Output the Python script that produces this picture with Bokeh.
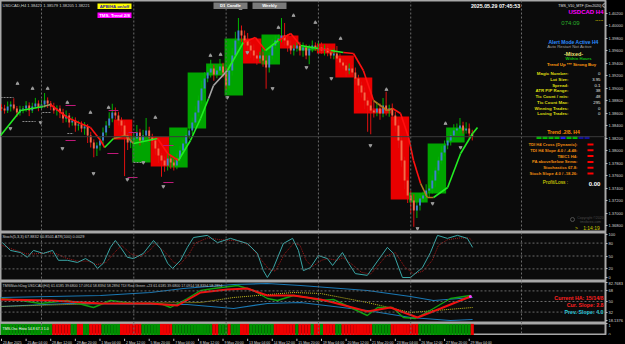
import numpy as np
from bokeh.plotting import figure
from bokeh.layouts import column
from bokeh.models import Range1d, FixedTicker, Span, Label, NumeralTickFormatter
from bokeh.core.properties import value
from bokeh.embed import file_html
from bokeh.resources import INLINE

FONT = "Liberation Sans"
BG = "#0b0b0b"
GRIDC = "#6a6a6a"
SEP = "#a8a8a8"

# ---------------- data ----------------
first_open = 1.38690
closes = [1.38672,
    1.38640, 1.38704, 1.38736, 1.38672, 1.38608, 1.38656,
    1.38672, 1.38720, 1.38640, 1.38704, 1.38752, 1.38688,
    1.38736, 1.38800, 1.38752, 1.38704, 1.38640, 1.38672,
    1.38608, 1.38512, 1.38560, 1.38448, 1.38480, 1.38400,
    1.38416, 1.38352, 1.38384, 1.38240, 1.38128, 1.38032,
    1.38080, 1.38160, 1.38288, 1.38400, 1.38512, 1.38608,
    1.38560, 1.38480, 1.38400, 1.38240, 1.38128, 1.38176,
    1.38192, 1.38288, 1.38160, 1.38240, 1.38320, 1.38208,
    1.38160, 1.38032, 1.37920, 1.37840, 1.37760, 1.37872,
    1.37808, 1.37760, 1.37872, 1.38000, 1.38112, 1.38240,
    1.38320, 1.38448, 1.38608, 1.38800, 1.38992, 1.39152,
    1.39248, 1.39312, 1.39216, 1.39280, 1.39344, 1.39248,
    1.39040, 1.39280, 1.39520, 1.39760, 1.39920, 1.39840,
    1.39760, 1.39680, 1.39600, 1.39520, 1.39472, 1.39520,
    1.39440, 1.39328, 1.39520, 1.39680, 1.39760, 1.39792,
    1.39840, 1.39760, 1.39680, 1.39600, 1.39632, 1.39680,
    1.39600, 1.39648, 1.39520, 1.39632, 1.39680, 1.39648,
    1.39648, 1.39600, 1.39632, 1.39568, 1.39520, 1.39552,
    1.39472, 1.39408, 1.39360, 1.39280, 1.39312, 1.39248,
    1.39152, 1.39040, 1.38928, 1.38800, 1.38720, 1.38640,
    1.38608, 1.38672, 1.38592, 1.38720, 1.38640, 1.38672,
    1.38560, 1.38400, 1.38160, 1.37840, 1.37520, 1.37280,
    1.37200, 1.37040, 1.37120, 1.37232, 1.37280, 1.37360,
    1.37392, 1.37520, 1.37680, 1.37840, 1.37968, 1.38080,
    1.38160, 1.38240, 1.38320, 1.38352, 1.38400, 1.38320,
    1.38352, 1.38272, 1.38221]
up_wick_pips = [5,
    6, 8, 5, 10, 4, 6,   4, 7, 5, 6, 9, 5,   8, 12, 5, 4, 6, 5,
    5, 6, 8, 4, 6, 5,    6, 5, 7, 4, 6, 5,   5, 6, 8, 7, 10, 14,
    8, 6, 5, 7, 4, 6,    8, 12, 6, 9, 20, 6, 6, 5, 7, 4, 6, 8,
    5, 6, 8, 7, 6, 9,    6, 8, 10, 8, 12, 10, 10, 14, 6, 8, 12, 6,
    8, 10, 12, 14, 20, 8, 8, 12, 6, 10, 5, 6, 6, 8, 5, 10, 8, 6,
    28, 20, 10, 8, 6, 5, 6, 8, 5, 6, 8, 5,  10, 8, 6, 5, 6, 8,
    12, 8, 6, 5, 8, 6,   8, 6, 6, 8, 5, 6,   14, 10, 8, 12, 22, 6,
    8, 6, 10, 8, 6, 6,   8, 10, 6, 8, 6, 10, 6, 8, 5, 6, 10, 8,
    8, 6, 10, 8, 12, 6,  10, 8, 6]
dn_wick_pips = [4,
    5, 4, 8, 3, 7, 5,    6, 5, 9, 4, 3, 6,   4, 5, 7, 6, 5, 8,
    9, 7, 6, 8, 5, 10,   8, 6, 10, 12, 8, 14, 12, 8, 6, 5, 4, 6,
    6, 8, 10, 65, 12, 9, 6, 5, 8, 6, 5, 7,   8, 10, 12, 26, 10, 8,
    10, 8, 6, 5, 6, 5,   5, 6, 4, 6, 5, 7,   6, 8, 10, 6, 5, 8,
    6, 5, 8, 6, 5, 10,   8, 10, 12, 8, 10, 6, 10, 34, 8, 6, 5, 6,
    6, 8, 10, 6, 8, 5,   8, 10, 6, 14, 6, 5, 6, 5, 8, 6, 5, 6,
    6, 8, 6, 10, 6, 5,   10, 12, 8, 14, 42, 38, 8, 6, 10, 6, 8, 10,
    8, 10, 12, 10, 14, 12, 20, 26, 12, 8, 6, 5, 12, 8, 10, 6, 5, 6,
    6, 8, 5, 6, 8, 5,    5, 8, 6]

# daily (D1) candle boxes: first H4 bar of the day, open, close
box_day_start = [37, 43, 49, 55, 61, 67, 73, 79, 85, 91, 97, 103, 109, 115, 121, 127, 133, 139, 145]
box_open = [1.38496, 1.37808, 1.38224, 1.37728, 1.38352, 1.39200, 1.38880, 1.39792, 1.39376, 1.39840,
            1.39600, 1.39712, 1.39520, 1.39168, 1.38672, 1.38544, 1.37168, 1.37312, 1.38128]
box_close = [1.38176, 1.38224, 1.37744, 1.38368, 1.39248, 1.39392, 1.39792, 1.39392, 1.39856, 1.39632,
             1.39664, 1.39552, 1.39168, 1.38592, 1.38592, 1.37216, 1.37328, 1.38112, 1.38368]

# smoothed trend line (bar, price, colour of the segment that starts there)
trend_bar = [-0.3, 6.2, 13.6, 15.9, 21.4, 25.7, 28.9, 32.2, 33.5, 36.4, 40.3, 42.9, 50.7, 54.0, 57.5,
             61.4, 64.7, 67.3, 68.9, 73.4, 78.6, 82.5, 85.8, 90.0, 94.0, 97.2, 103.0, 107.0, 111.1,
             114.4, 117.6, 120.9, 122.2, 125.4, 127.1, 129.7, 132.3, 133.9, 136.2, 138.4, 140.4,
             145.0, 149.2, 153.1, 154.7]
trend_val = [1.38240, 1.38640, 1.38704, 1.38736, 1.38528, 1.38432, 1.38368, 1.38160, 1.38048, 1.38192,
             1.38240, 1.38112, 1.38192, 1.37952, 1.37840, 1.38160, 1.38512, 1.38832, 1.39040, 1.39280,
             1.39728, 1.39808, 1.39600, 1.39760, 1.39872, 1.39680, 1.39632, 1.39600, 1.39568, 1.39552,
             1.39280, 1.38800, 1.38752, 1.38640, 1.38672, 1.38592, 1.38208, 1.37840, 1.37472, 1.37248,
             1.37248, 1.37408, 1.37952, 1.38272, 1.38368]
trend_col = ["g", "g", "y", "r", "r", "r", "r", "r", "g", "o", "o", "g", "r", "r", "g",
             "g", "g", "w", "w", "g", "r", "r", "g", "r", "r", "g", "r", "g", "r",
             "r", "r", "o", "o", "o", "r", "r", "r", "r", "o", "o", "g",
             "g", "g", "g", "g"]

# fractal arrows
frac_up_bar = [5.2, 10.1, 15.0, 21.4, 28.9, 34.8, 50.0, 67.9, 71.2, 77.7, 90.0, 94.9, 102.0, 110.2, 125.1, 144.3]
frac_up_val = [1.39072, 1.38992, 1.38992, 1.38768, 1.38608, 1.38688, 1.38528, 1.39520, 1.39536, 1.40272,
               1.39968, 1.40160, 1.40048, 1.39792, 1.38976, 1.38432]
frac_dn_bar = [2.9, 12.7, 19.8, 29.9, 40.9, 46.1, 52.6, 73.4, 79.9, 88.1, 99.1, 107.2, 119.9, 135.2, 140.1, 149.2]
frac_dn_val = [1.38352, 1.38448, 1.38032, 1.37632, 1.37536, 1.37808, 1.37424, 1.38848, 1.39568, 1.38992,
               1.39328, 1.39152, 1.38080, 1.36752, 1.37152, 1.38048]

# short level segments (magenta) and dashed grey levels
lvl_x0 = [20.8, 20.8, 34.4, 34.8, 41.3, 41.0, 52.6, 52.3]
lvl_x1 = [24.1, 24.1, 38.0, 38.0, 44.2, 44.2, 55.9, 55.9]
lvl_val = [1.38720, 1.38160, 1.37952, 1.38640, 1.38288, 1.37568, 1.37488, 1.38080]
dlvl_x0 = [6.8, -0.3, 13.3, 42.9, 21.4]
dlvl_x1 = [11.1, 3.9, 15.9, 46.1, 23.4]
dlvl_val = [1.38464, 1.38848, 1.38608, 1.37808, 1.38272]

# stochastic
stoch_bar = [0.3, 2.9, 6.2, 8.4, 10.4, 13.6, 16.6, 18.5, 21.4, 24.7, 27.3, 29.9, 31.2, 33.1, 35.4, 37.0,
             38.7, 40.9, 42.9, 46.1, 49.4, 51.7, 54.0, 55.6, 58.2, 60.4, 62.4, 66.9, 70.2, 74.4, 76.7,
             79.9, 83.2, 85.1, 86.4, 88.4, 91.6, 94.6, 96.5, 98.1, 100.4, 103.0, 105.9, 107.6, 110.8,
             112.8, 115.0, 118.9, 125.4, 127.4, 130.3, 132.9, 136.8, 139.4, 141.7, 144.9, 148.2, 151.4, 153.1]
stoch_main = [81, 63, 58, 47, 63, 56, 63, 40, 40, 35, 44, 33, 21, 33, 70, 86,
              70, 47, 44, 56, 86, 67, 33, 21, 40, 70, 93, 98, 81, 91, 86,
              79, 56, 16, 0, 23, 79, 91, 63, 16, 23, 51, 44, 28, 58,
              33, 9, 5, 70, 56, 0, 0, 23, 58, 98, 91, 98, 91, 70]
sig_bar = [0, 4, 8, 11, 15, 18, 21, 25, 28, 31, 34, 37, 39, 42, 45, 48, 50, 53, 56, 58, 61, 63, 67, 71,
           75, 78, 81, 84, 87, 89, 92, 95, 97, 99, 101, 104, 106, 109, 111, 114, 117, 120, 125, 128,
           131, 134, 137, 140, 142, 145, 149, 152, 153]
sig_val = [75, 65, 55, 55, 58, 55, 45, 38, 38, 30, 35, 60, 75, 55, 48, 62, 78, 60, 35, 30, 55, 80, 92, 88,
           86, 84, 72, 45, 18, 15, 55, 80, 75, 40, 25, 40, 44, 40, 46, 30, 12, 8, 50, 58,
           25, 8, 15, 40, 75, 88, 92, 92, 85]

# TMS watchdog lines
up_band_bar = [-0.3, 32.2, 48.4, 59.1, 75.4, 86.4, 97.2, 118.9, 132.9, 140.4, 153.1]
up_band_val = [56.8, 60.2, 65.3, 72.1, 78.9, 80.6, 77.2, 68.7, 58.5, 51.7, 56.8]
lo_band_bar = [-0.3, 21.4, 53.9, 60.4, 75.4, 86.4, 97.2, 118.9, 132.9, 145.9, 153.1]
lo_band_val = [41.5, 46.6, 44.9, 44.9, 38.1, 46.6, 48.3, 34.7, 22.8, 17.7, 19.4]
base_bar = [-0.3, 32.2, 64.7, 75.4, 94.9, 103.7, 118.9, 132.9, 153.1]
base_val = [41.5, 46.6, 48.3, 56.8, 65.3, 63.6, 48.3, 31.3, 39.8]
rsi_bar = [-0.3, 6.2, 12.7, 21.4, 29.9, 35.4, 42.9, 51.7, 54.9, 60.4, 64.7, 68.9, 76.7, 81.9, 86.4,
           89.7, 94.9, 99.4, 103.7, 107.9, 113.4, 118.9, 122.2, 127.1, 130.6, 134.5, 140.4, 145.9, 152.4]
rsi_val = [55.1, 51.7, 46.6, 51.7, 39.8, 51.7, 46.6, 46.6, 39.8, 55.1, 68.7, 72.1, 77.2, 68.7, 55.1,
           51.7, 60.2, 56.8, 51.7, 53.4, 39.8, 26.2, 39.8, 39.8, 22.8, 21.1, 38.1, 55.1, 60.2]
sigl_bar = [-0.3, 15.9, 32.2, 48.4, 57.2, 64.7, 73.4, 79.9, 86.4, 94.9, 103.7, 107.9, 118.9, 126.4,
            135.2, 142.7, 152.4]
sigl_val = [53.4, 51.7, 46.6, 46.6, 43.2, 65.3, 70.4, 72.1, 60.2, 60.2, 53.4, 48.3, 33.0, 39.8,
            22.8, 38.1, 58.5]

# oscillator histogram: runs of colour over the bars
histo_runs = [("G", 17), ("R", 6), ("G", 2), ("R", 2), ("G", 2), ("R", 4), ("G", 6), ("R", 7),
              ("G", 6), ("R", 4), ("G", 13), ("R", 2), ("G", 3), ("R", 1), ("G", 3), ("R", 3),
              ("G", 8), ("R", 7), ("G", 1), ("R", 4), ("G", 1), ("R", 2), ("G", 1), ("R", 4),
              ("G", 2), ("R", 10), ("G", 6), ("R", 9), ("G", 17), ("R", 1)]

# axes
price_ticks = [1.3680, 1.3700, 1.3720, 1.3740, 1.3760, 1.3780, 1.3800, 1.3820, 1.3840, 1.3860,
               1.3880, 1.3900, 1.3920, 1.3940, 1.3960, 1.3980, 1.4000, 1.4020]
date_tick_bars = [0, 8, 16, 24, 32, 40, 48, 56, 64, 72, 80, 88, 96, 104, 112, 120, 128, 136, 144, 152]
date_labels = ["23 Apr 2025", "25 Apr 04:00", "28 Apr 12:00", "29 Apr 20:00", "1 May 04:00",
               "2 May 12:00", "5 May 20:00", "7 May 04:00", "8 May 12:00", "9 May 20:00",
               "13 May 04:00", "14 May 12:00", "15 May 20:00", "19 May 04:00", "20 May 12:00",
               "21 May 20:00", "23 May 04:00", "26 May 12:00", "27 May 20:00", "29 May 04:00"]
grid_bars = [13, 43, 73, 103, 133, 169]

# ---------------- layout helpers (pixel -> data) ----------------
PXB = 3.077
X0 = -0.325
FRAME_W = 605
def X(px):
    return X0 + px / PXB
def P(py):
    return 1.4040 - 0.00016 * py
def S(py):
    return (277 - py) / 0.43
def T(py):
    return 50 + (301 - py) * 1.7
def H(py):
    return (335 - py) / 12.0

xr = Range1d(X0, X0 + FRAME_W / PXB)

def base_fig(h, yr, grid=True, outline=True):
    f = figure(width=625, height=h, x_range=xr, y_range=yr, output_backend="svg",
               toolbar_location=None, x_axis_location=None,
               y_axis_location="right", min_border_left=0, min_border_right=20,
               min_border_top=0, min_border_bottom=0)
    f.background_fill_color = BG
    f.border_fill_color = "#000000"
    f.outline_line_color = SEP if outline else None
    f.outline_line_width = 2
    f.xgrid.visible = False
    f.ygrid.visible = False
    ax = f.yaxis[0]
    ax.major_label_text_font = FONT
    ax.major_label_text_font_size = "4px"
    ax.major_label_text_color = "#d8d8d8"
    ax.axis_line_color = SEP
    ax.major_tick_line_color = "#c0c0c0"
    ax.major_tick_out = 2
    ax.major_tick_in = 0
    ax.minor_tick_line_color = None
    ax.major_label_standoff = 1
    if grid:
        for g in grid_bars:
            f.add_layout(Span(location=g, dimension="height", line_color=GRIDC,
                              line_dash="2 2", line_width=1))
    return f

def txt(f, x, y, s, color, size, style="normal", align="left"):
    f.text(x=[x], y=[y], text=[s], text_color=color, text_font=value(FONT),
           text_font_size=size, text_font_style=style, text_align=align,
           text_baseline="middle")

def box(f, x0, x1, y0, y1, color, fy):
    f.quad(left=[X(x0)], right=[X(x1)], top=[fy(y0)], bottom=[fy(y1)],
           fill_color=color, line_color=None)

# ---------------- main price panel ----------------
n = len(closes)
bars = np.arange(n)
c = np.array(closes)
o = np.concatenate([[first_open], c[:-1]])
hi = np.maximum(o, c) + np.array(up_wick_pips) * 0.0001
lo = np.minimum(o, c) - np.array(dn_wick_pips) * 0.0001
bull = c >= o

p = base_fig(232, Range1d(P(232), P(0)))
p.yaxis[0].ticker = FixedTicker(ticks=price_ticks)
p.yaxis[0].formatter = NumeralTickFormatter(format="0.00000")

p.add_layout(Span(location=closes[-1], dimension="width", line_color="#3a3a3a", line_width=1))

bs = np.array(box_day_start)
bo = np.array(box_open)
bc = np.array(box_close)
p.quad(left=bs - 0.5, right=bs + 5.5, top=np.maximum(bo, bc), bottom=np.minimum(bo, bc),
       fill_color=["#00a400" if cc > oo else "#e80000" for oo, cc in zip(bo, bc)],
       line_color=None)

wick_col = np.where(bull, "#00b400", "#e01010")
body_col = np.where(bull, "#3f7fd0", "#f36a48")
p.segment(x0=bars, x1=bars, y0=lo, y1=hi, line_color=wick_col, line_width=1)
p.vbar(x=bars, width=0.62, top=np.maximum(o, c), bottom=np.minimum(o, c),
       fill_color=body_col, line_color=None)

p.segment(x0=lvl_x0, x1=lvl_x1, y0=lvl_val, y1=lvl_val, line_color="#c0187a", line_width=1.2)
p.segment(x0=dlvl_x0, x1=dlvl_x1, y0=dlvl_val, y1=dlvl_val, line_color="#8a8a8a",
          line_width=1, line_dash="2 1")

cmap = {"g": "#22ee22", "r": "#ff1010", "o": "#b07a20", "y": "#9a9a60", "w": "#a8a8a8"}
p.segment(x0=trend_bar[:-1], x1=trend_bar[1:], y0=trend_val[:-1], y1=trend_val[1:],
          line_color=[cmap[k] for k in trend_col[:-1]], line_width=1.6)

p.scatter(frac_up_bar, frac_up_val, marker="triangle", size=3, fill_color="#9a9a9a",
          line_color="#9a9a9a")
p.scatter(frac_dn_bar, frac_dn_val, marker="inverted_triangle", size=3, fill_color="#9a9a9a",
          line_color="#9a9a9a")

txt(p, X(2), P(4.5), "USDCAD,H4  1.38421 1.38579 1.38205 1.38221", "#cfcfcf", "4.1px")
box(p, 97, 131, 3, 8.5, "#ffff00", P)
txt(p, X(114), P(5.8), "APB/HA on/off", "#3020a0", "4.3px", "bold", "center")
box(p, 97, 131, 12, 17.5, "#ff00ff", P)
txt(p, X(114), P(14.8), "TMS- Trend 2/8", "#ffffff", "4.3px", "bold", "center")
box(p, 213, 247, 2, 8.5, "#7a7a7a", P)
txt(p, X(230), P(5.3), "D1 Candle", "#ffffff", "4.3px", "bold", "center")
box(p, 252, 286, 2, 8.5, "#7a7a7a", P)
txt(p, X(269), P(5.3), "Weekly", "#ffffff", "4.3px", "bold", "center")
txt(p, X(495), P(5.5), "2025.05.29 07:45:53", "#ffffff", "5.3px", "bold", "center")

txt(p, X(601), P(5), "TMS_V10_MTF (Dec2020)", "#e0e0e0", "3.6px", "normal", "right")
p.scatter([X(604)], [P(5)], marker="circle", size=3.5, fill_color=None, line_color="#c0c0c0")
txt(p, X(603), P(11), "USDCAD H4", "#ff00ff", "6px", "bold", "right")
txt(p, X(570), P(22), "074:09", "#2ab02a", "6px", "normal", "center")
txt(p, X(603), P(19), "·····", "#d0d000", "5px", "bold", "right")
txt(p, X(573), P(41), "Alert Mode Active H4", "#2a8cff", "5px", "bold", "center")
txt(p, X(569), P(46), "Auto Restart Not Active", "#a0a0a0", "4.3px", "normal", "center")
txt(p, X(573), P(53), "-Mixed-", "#e8e070", "5.5px", "bold", "center")
txt(p, X(578), P(58), "Within Hours", "#10c010", "4.2px", "bold", "center")
txt(p, X(571), P(63.5), "Trend Up *** Strong Buy", "#ff9a10", "4.3px", "bold", "center")
info_labels = ["Magic Number:", "Lot Size:", "Spread:", "ATR PIP Range:", "Tic Count / min:",
               "Tic Count Max:", "Winning Trades:", "Losing Trades:"]
info_values = ["0", "3.95", "0.1", "38", "48", "295", "0", "0"]
for k, (lab, val) in enumerate(zip(info_labels, info_values)):
    yy = 73 + k * 5.75
    txt(p, X(568), P(yy), lab, "#dede10", "4.4px", "bold", "right")
    txt(p, X(600), P(yy), val, "#e8e8e8", "4.3px", "normal", "right")
txt(p, X(563), P(131), "Trend .2/8. H4", "#ff8c00", "5px", "bold", "center")
square_cols = ["#00c000", "#00c000", "#00c000", "#00c000", "#2020ff", "#00c000", "#00c000",
               "#1010a0", "#1010a0"]
for k, sc in enumerate(square_cols):
    box(p, 536 + k * 6, 541 + k * 6, 135.5, 138.5, sc, P)
rule_labels = ["TDI H4 Cross (Dynamic):", "TDI H4 Slope 4.0 / -4.48:", "TBIC1 H4:",
               "PA above/below Sema:", "Stochastics 67.8:", "Stoch Slope 4.0 / -18.26:"]
for k, lab in enumerate(rule_labels):
    yy = 144 + k * 5.8
    txt(p, X(577), P(yy), lab, "#f08c10", "4.2px", "bold", "right")
    box(p, 587, 593, yy - 1, yy + 1, "#ff0000", P)
txt(p, X(555), P(182), "Profit/Loss :", "#e4e400", "4.8px", "normal", "center")
txt(p, X(594), P(183), "0.00", "#ffffff", "6px", "bold", "center")
txt(p, X(590), P(217), "Copyright ©2020", "#4a4a4a", "3.5px", "normal", "center")
txt(p, X(590), P(221.5), "tmsforex.com", "#4a4a4a", "3.5px", "normal", "center")
p.scatter([X(572)], [P(219)], marker="circle", size=4, fill_color=None, line_color="#505050")
txt(p, X(576), P(227), ">", "#c8c800", "5px", "normal", "center")
txt(p, X(591), P(227), "1:14:19", "#c8c800", "5px", "normal", "center")

p.add_layout(Label(x=608, x_units="screen", y=closes[-1], text="1.38221", text_font=FONT,
                   text_font_size="4px", text_color="#000000", background_fill_color="#ffffff",
                   text_baseline="middle"))

# ---------------- stochastic panel ----------------
ps = base_fig(49, Range1d(S(281), S(232)))
ps.yaxis[0].ticker = FixedTicker(ticks=[0, 20, 50, 80, 100])
for lv in [20, 50, 80]:
    ps.add_layout(Span(location=lv, dimension="width", line_color=GRIDC, line_dash="2 2", line_width=1))
ps.line(sig_bar, sig_val, line_color="#a01818", line_width=1, line_dash="1 1")
ps.line(stoch_bar, stoch_main, line_color="#3aa6a6", line_width=1)
txt(ps, X(2), S(235.5), "Stoch(5,3,3) 67.8832 60.8501   ATR(100) 0.0029", "#cfcfcf", "3.9px")

# ---------------- TMS panel ----------------
pt = base_fig(42, Range1d(T(323), T(281)))
pt.yaxis[0].ticker = FixedTicker(ticks=[18.1376, 32, 50, 68, 82.7683])
pt.yaxis[0].major_label_overrides = {18.1376: "18.1376", 32: "32", 50: "50", 68: "68", 82.7683: "82.7683"}
for lv in [32, 50, 68]:
    pt.add_layout(Span(location=lv, dimension="width", line_color=GRIDC, line_dash="2 2", line_width=1))
pt.line(up_band_bar, up_band_val, line_color="#1a78b4", line_width=1.2)
pt.line(lo_band_bar, lo_band_val, line_color="#1a78b4", line_width=1.2)
pt.line(base_bar, base_val, line_color="#c8c020", line_width=1, line_dash="1 1")
pt.line(rsi_bar, rsi_val, line_color="#10a010", line_width=1.4)
pt.line(sigl_bar, sigl_val, line_color="#f01010", line_width=2)
pt.scatter([sigl_bar[-1]], [sigl_val[-1]], size=3, fill_color="#ff40ff", line_color=None)
txt(pt, X(2), T(285), "TMSWatchDog USDCAD(H4) 61.6185 39.6800 17.0914 58.8394 58.2894   TDI Red Green +23 61.6185 39.6800 17.0914 58.8394 58.2894",
    "#c8c8c8", "3.6px")
txt(pt, X(603), T(297), "Current HA: 15/14/8", "#ff2020", "5.3px", "bold", "right")
txt(pt, X(603), T(304), "Cur. Slope: 2.8", "#ff2020", "5.3px", "bold", "right")
txt(pt, X(603), T(311), "Prev. Slope: 4.0", "#22d4e4", "5.3px", "bold", "right")

# ---------------- oscillator histogram ----------------
ph = base_fig(12, Range1d(H(335), H(323)))
ph.yaxis[0].ticker = FixedTicker(ticks=[0, 1])
hcol = []
for col, cnt in histo_runs:
    hcol += ["#009000" if col == "G" else "#f00000"] * cnt
ph.vbar(x=np.arange(len(hcol)), width=1.0, top=0.97, bottom=0.03, fill_color=hcol, line_color=None)
txt(ph, X(2), H(328.5), "TMS-Osc Histo 54.8 67.3 1.0", "#ffffff", "3.6px")

# ---------------- time scale strip ----------------
pd_ = base_fig(9, Range1d(0, 9), grid=False, outline=False)
pd_.background_fill_color = "#000000"
pd_.yaxis[0].visible = False
pd_.segment(x0=date_tick_bars, x1=date_tick_bars, y0=[9] * len(date_tick_bars),
            y1=[6.5] * len(date_tick_bars), line_color="#c0c0c0", line_width=1)
pd_.text(x=[b + 0.45 for b in date_tick_bars], y=[4.6] * len(date_tick_bars), text=date_labels,
         text_color="#d8d8d8", text_font=value(FONT), text_font_size="3.5px",
         text_align="left", text_baseline="middle")

layout = column(p, ps, pt, ph, pd_, spacing=0)
layout.styles = {"background-color": "#000000"}
open("out.html", "w").write(file_html(layout, INLINE))
